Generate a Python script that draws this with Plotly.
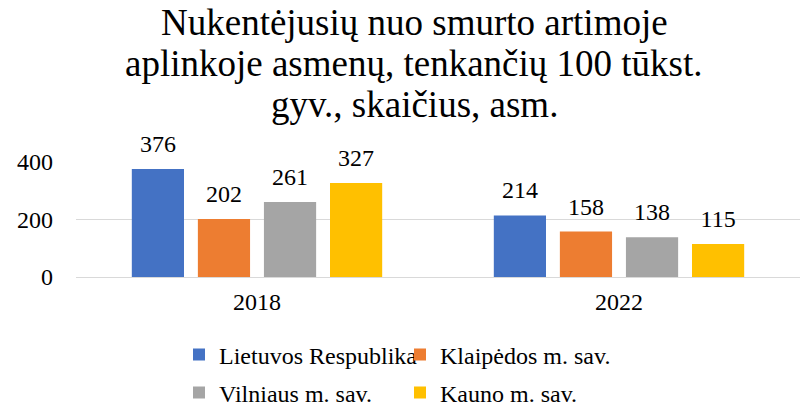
import plotly.graph_objects as go

years = ["2018", "2022"]
series_names = ["Lietuvos Respublika", "Klaipėdos m. sav.", "Vilniaus m. sav.", "Kauno m. sav."]
lietuva = [376, 214]
klaipeda = [202, 158]
vilnius = [261, 138]
kaunas = [327, 115]
colors = ["#4472C4", "#ED7D31", "#A5A5A5", "#FFC000"]
tick_vals = [0, 200, 400]
title_lines = ["Nukentėjusių nuo smurto artimoje",
               "aplinkoje asmenų, tenkančių 100 tūkst.",
               "gyv., skaičius, asm."]

FONT = "Liberation Serif, Times New Roman, serif"
PLOT_LEFT, PLOT_TOP, PLOT_BOTTOM = 76, 162, 277
PH = PLOT_BOTTOM - PLOT_TOP
PW = 800 - PLOT_LEFT
legend_ids = ["legend", "legend", "legend2", "legend2"]
BARGAP = 0.27

fig = go.Figure()
all_vals = [lietuva, klaipeda, vilnius, kaunas]
for name, vals, col, lg in zip(series_names, all_vals, colors, legend_ids):
    fig.add_trace(go.Bar(
        x=years, y=vals, name=name, marker_color=col, marker_line_width=0,
        legend=lg,
    ))
# data labels, grouped like the bars
for name, vals in zip(series_names, all_vals):
    fig.add_trace(go.Scatter(
        x=years, y=vals, mode="markers+text", text=[str(v) for v in vals],
        textposition="top center", marker=dict(size=16, opacity=0),
        textfont=dict(family=FONT, size=24, color="#000000"),
        showlegend=False, hoverinfo="skip", cliponaxis=False, name=name,
    ))

# title lines (three, to match reference line spacing)
for line, cy in zip(title_lines, [22, 63, 104]):
    fig.add_annotation(
        text=line, xref="paper", yref="paper", x=(414 - PLOT_LEFT) / PW, xanchor="center",
        y=(PLOT_BOTTOM - cy) / PH, yanchor="middle", showarrow=False,
        font=dict(family=FONT, size=37, color="#000000"),
    )

legend_common = dict(
    orientation="h", xref="container", x=179 / 800, xanchor="left",
    yref="container", yanchor="middle",
    font=dict(family=FONT, size=24, color="#000000"),
    entrywidth=176, entrywidthmode="pixels", itemwidth=30, tracegroupgap=0,
    bgcolor="rgba(0,0,0,0)",
)

fig.update_layout(
    width=800, height=414,
    paper_bgcolor="white", plot_bgcolor="white",
    margin=dict(l=PLOT_LEFT, r=0, t=PLOT_TOP, b=414 - PLOT_BOTTOM, autoexpand=False),
    barmode="group", bargap=BARGAP, bargroupgap=0.21,
    scattermode="group", scattergap=BARGAP,
    font=dict(family=FONT, size=24, color="#000000"),
    showlegend=True,
    legend=dict(legend_common, y=1 - 355 / 414),
    legend2=dict(legend_common, y=1 - 393 / 414),
)
fig.update_yaxes(
    range=[0, 400], tickvals=tick_vals, showgrid=True, gridcolor="#D9D9D9", gridwidth=1,
    zeroline=True, zerolinecolor="#D9D9D9", zerolinewidth=1, showline=False,
    ticklabelstandoff=22, tickfont=dict(family=FONT, size=24), automargin=False,
)
fig.update_xaxes(
    showline=False, ticks="", ticklabelstandoff=8, tickfont=dict(family=FONT, size=24),
    automargin=False,
)

fig.write_html("out.html", config={"displayModeBar": False},
               post_script="document.body.style.margin='0px';")
